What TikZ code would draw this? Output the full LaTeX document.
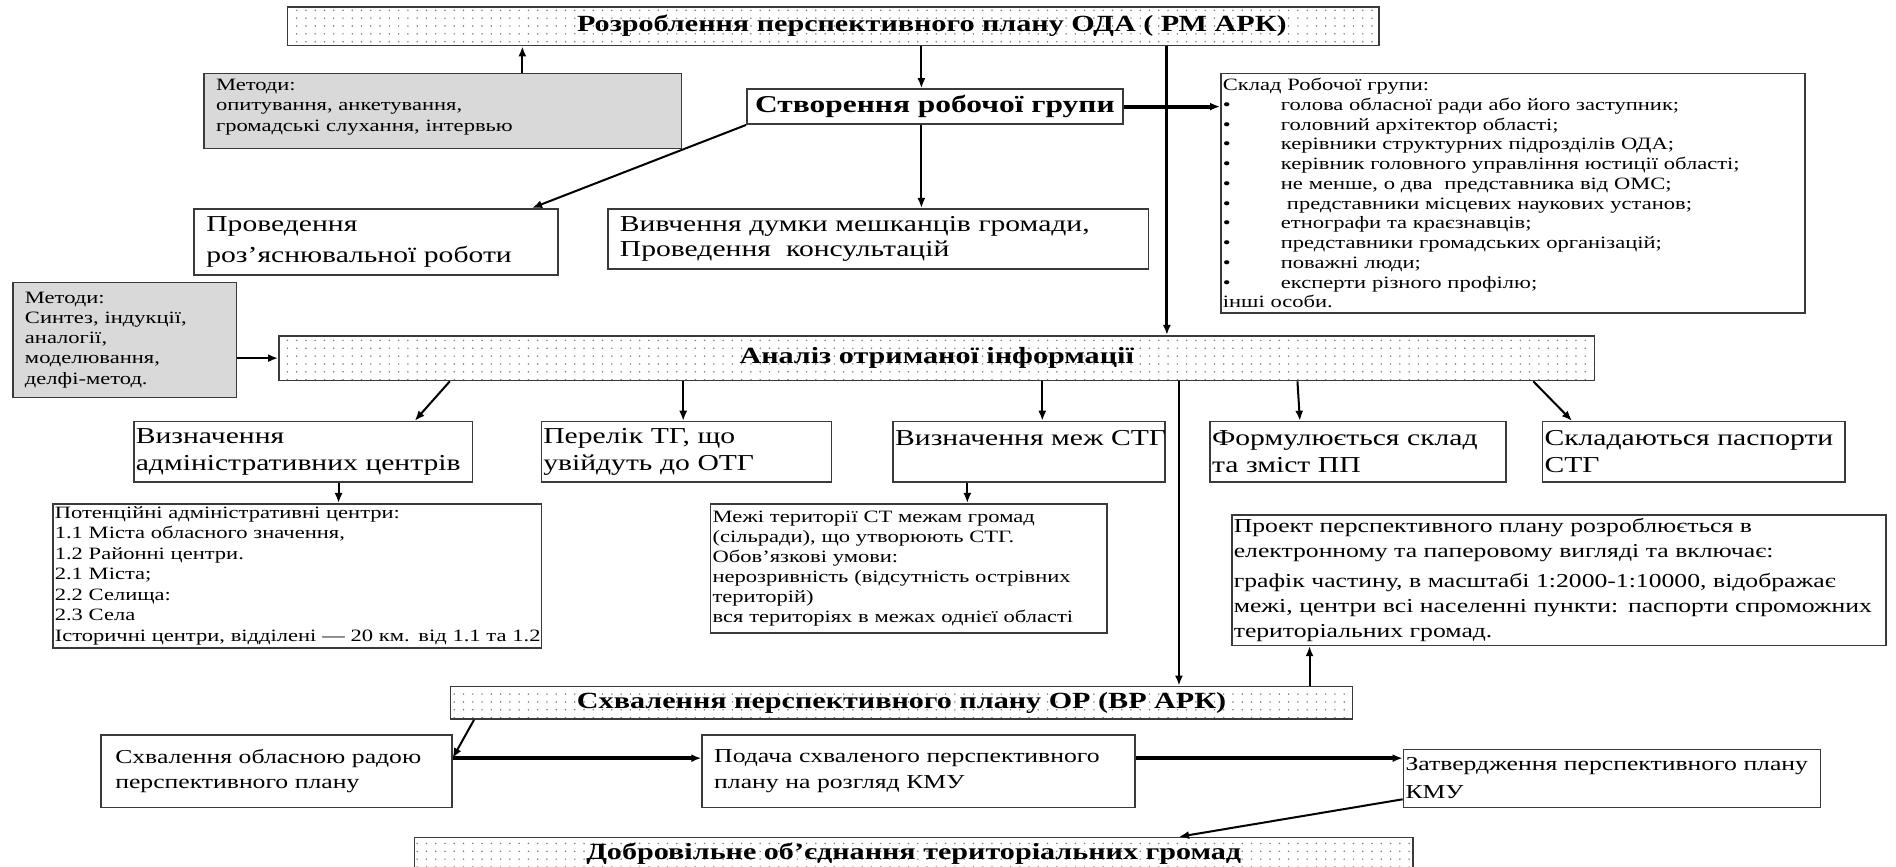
\documentclass[tikz,border=0pt]{standalone}
\usepackage{fontspec}
\setmainfont{Liberation Serif}[FakeStretch=1.3]
\usepackage{tikz}
\usetikzlibrary{arrows.meta,patterns}
\definecolor{frame}{HTML}{3A3A3A}
\definecolor{shade}{HTML}{D9D9D9}
\definecolor{dotgray}{HTML}{7A7A7A}
\pgfdeclarepatternformonly{finedots}{\pgfqpoint{-0.5pt}{-0.5pt}}{\pgfqpoint{0.5pt}{0.5pt}}{\pgfqpoint{4.6pt}{3.9pt}}{%
  \pgfpathcircle{\pgfpointorigin}{0.42pt}\pgfusepath{fill}}
\newcommand{\stbul}{\makebox[28.8pt][l]{•}}
\tikzset{
  arr/.style={draw=black, line width=1pt, -{Latex[length=5pt,width=4pt]}},
  longarr/.style={arr, line width=1.4pt},
  thickarr/.style={arr, line width=2pt},
  box/.style={draw=frame, line width=0.8pt, anchor=north west, align=left, inner xsep=1pt, inner ysep=0.5pt},
  pad/.style={inner xsep=6pt},
  bar/.style={box, align=center, pattern=finedots, pattern color=dotgray, font=\bfseries\fontsize{11.5}{13}\selectfont},
  gbox/.style={box, fill=shade},
  sz/.style n args={3}{minimum width=#1pt, minimum height=#2pt, text width=#3pt},
  big/.style={font=\fontsize{11.3}{13.5}\selectfont},
  mid/.style={font=\fontsize{9.8}{12.6}\selectfont},
  small/.style={font=\fontsize{8.6}{10}\selectfont}
}
\begin{document}
\begin{tikzpicture}[x=0.6pt, y=-0.6pt]
  \useasboundingbox (0,0) rectangle (1568,717);

  \node[bar, minimum width=541.8pt, minimum height=19.2pt] (plan) at (237,5)
    {\hspace*{97.8pt}Розроблення перспективного плану ОДА ( РМ АРК)};
  \node[gbox, pad, small, sz={237}{37.2}{225}] (methA) at (168,60)
    {\\[-8pt]Методи:\\опитування, анкетування,\\громадські слухання, інтервью};
  \node[box, align=center, minimum width=186.6pt, minimum height=17.4pt,
    font=\bfseries\fontsize{12}{14}\selectfont] (group) at (617,73) {Створення робочої групи};
  \node[box, small, sz={289.8}{118.8}{287.8}, font=\fontsize{8.6}{9.8}\selectfont] (staff) at (1009,60)
    {Склад Робочої групи:\\
     \stbul голова обласної ради або його заступник;\\
     \stbul головний архітектор області;\\
     \stbul керівники структурних підрозділів ОДА;\\
     \stbul керівник головного управління юстиції області;\\
     \stbul не менше, о два\ \ представника від ОМС;\\
     \stbul\hspace{3pt}представники місцевих наукових установ;\\
     \stbul етнографи та краєзнавців;\\
     \stbul представники громадських організацій;\\
     \stbul поважні люди;\\
     \stbul експерти різного профілю;\\
     інші особи.};
  \node[box, pad, big, sz={180.6}{33}{168.6}, font=\fontsize{11.3}{15}\selectfont] (explain) at (160,172)
    {Проведення\\роз’яснювальної роботи};
  \node[box, pad, big, sz={268.2}{30}{256.2}, font=\fontsize{11.3}{12.3}\selectfont] (survey) at (502,172)
    {Вивчення думки мешканців громади,\\Проведення\ \ консультацій};
  \node[gbox, pad, small, sz={111}{57}{99}] (methB) at (10,233)
    {Методи:\\Синтез, індукції,\\аналогії,\\моделювання,\\делфі-метод.};
  \node[bar, minimum width=652.8pt, minimum height=22.2pt] (analysis) at (230,277)
    {Аналіз отриманої інформації};

  \node[box, big, sz={168}{30}{166}] (centres) at (110,348)
    {Визначення\\адміністративних~центрів};
  \node[box, big, sz={144}{30}{142}] (list) at (447,348)
    {Перелік ТГ, що\\увійдуть до ОТГ};
  \node[box, big, sz={135}{30}{133}] (bounds) at (738,348)
    {Визначення~меж~СТГ\\\mbox{}};
  \node[box, big, sz={147}{30}{145}] (content) at (1000,348)
    {Формулюється~склад\\та зміст ПП};
  \node[box, big, sz={150}{30}{148}] (passports) at (1275,348)
    {Складаються~паспорти\\СТГ};

  \node[box, small, sz={242.4}{71.4}{240.4}, font=\fontsize{8.6}{10.2}\selectfont] (potential) at (43,416)
    {Потенційні адміністративні центри:\\1.1 Міста обласного значення,\\1.2 Районні центри.\\2.1 Міста;\\2.2 Селища:\\2.3 Села\\
     \mbox{Історичні центри, відділені — 20 км. від 1.1 та 1.2}};
  \node[box, small, sz={196.8}{64.2}{194.8}] (limits) at (587,416)
    {Межі території СТ межам громад\\(сільради), що утворюють СТГ.\\Обов’язкові умови:\\нерозривність (відсутність острівних\\територій)\\вся територіях в межах однієї області};
  \node[box, mid, sz={324.6}{64.8}{322.6}] (project) at (1018,425)
    {Проект перспективного плану розроблюється в\\електронному та паперовому вигляді та включає:\\[2pt]
     \mbox{графік частину, в масштабі 1:2000-1:10000, відображає}\\
     \mbox{межі, центри всі населенні пункти: паспорти спроможних}\\територіальних громад.};

  \node[bar, minimum width=447.6pt, minimum height=16.2pt] (approve) at (372,567)
    {Схвалення перспективного плану ОР (ВР АРК)};
  \node[box, mid, inner xsep=7pt, sz={174}{36}{160}] (council) at (83,607)
    {Схвалення обласною радою\\перспективного плану};
  \node[box, mid, pad, sz={214.8}{36}{202.8}] (submit) at (580,607)
    {Подача схваленого перспективного\\плану на розгляд КМУ};
  \node[box, mid, sz={207}{28.8}{205}, font=\fontsize{9.8}{13.8}\selectfont] (confirm) at (1160,619)
    {\mbox{Затвердження перспективного плану}\\КМУ};
  \node[bar, minimum width=495.6pt, minimum height=16.2pt] (union) at (342,692)
    {Добровільне об’єднання територіальних громад};

  \draw[arr] (432,0 |- methA.north) -- (432,0 |- plan.south);
  \draw[arr] (762,0 |- plan.south) -- (762,0 |- group.north);
  \draw[longarr] (965,0 |- plan.south) -- (965,0 |- analysis.north);
  \draw[thickarr] (group.east) -- (group.east -| staff.west);
  \draw[arr] (group.south west) -- (440,0 |- explain.north);
  \draw[arr] (762,0 |- group.south) -- (762,0 |- survey.north);
  \draw[arr] (methB.east |- analysis.west) -- (analysis.west);

  \draw[arr] (372,0 |- analysis.south) -- (343,0 |- centres.north);
  \draw[arr] (565,0 |- analysis.south) -- (565,0 |- list.north);
  \draw[arr] (862,0 |- analysis.south) -- (862,0 |- bounds.north);
  \draw[longarr] (975,0 |- analysis.south) -- (975,0 |- approve.north);
  \draw[arr] (1073,0 |- analysis.south) -- (1075,0 |- content.north);
  \draw[arr] (1268,0 |- analysis.south) -- (1300,0 |- passports.north);
  \draw[arr] (280,0 |- centres.south) -- (280,0 |- potential.north);
  \draw[arr] (800,0 |- bounds.south) -- (800,0 |- limits.north);

  \draw[arr] (1083,0 |- approve.north) -- (1083,0 |- project.south);
  \draw[arr] (392,0 |- approve.south) -- (council.east |- 0,627);
  \draw[thickarr] (council.east |- 0,627) -- (submit.west |- 0,627);
  \draw[thickarr] (submit.east |- 0,627) -- (confirm.west |- 0,627);
  \draw[arr] (confirm.west |- 0,661) -- (975,0 |- union.north);
\end{tikzpicture}
\end{document}
